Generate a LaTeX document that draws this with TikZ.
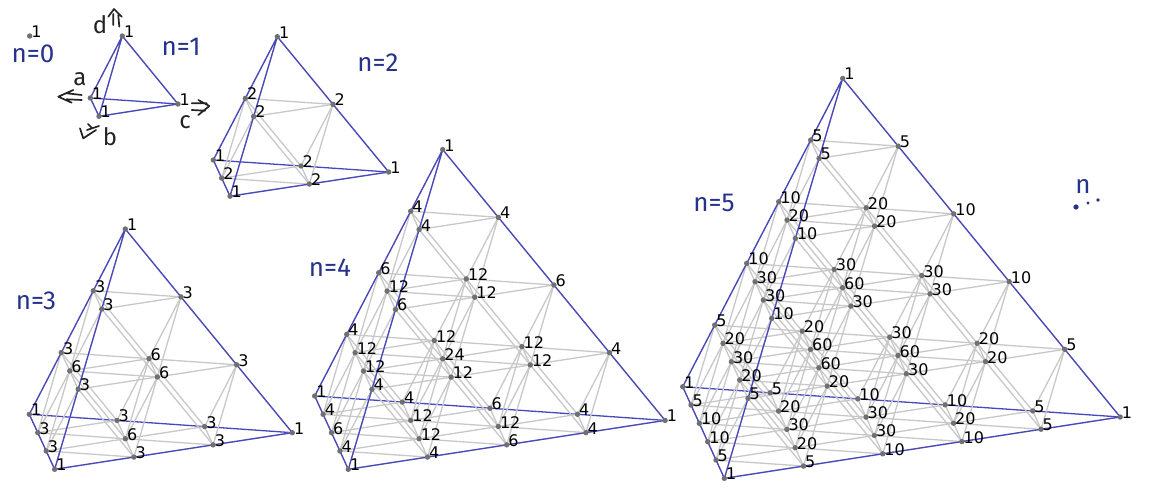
\documentclass[tikz,border=0pt]{standalone}
\usepackage{fontspec}
\setmainfont{DejaVu Sans}
\newfontfamily\handfont{Fira Sans}
\pgfdeclarelayer{bg}
\pgfdeclarelayer{back}
\pgfsetlayers{back,bg,main}
\definecolor{gridgray}{RGB}{200,200,200}
\definecolor{edgeblue}{RGB}{72,72,190}
\definecolor{ptgray}{RGB}{112,112,112}
\definecolor{handblue}{RGB}{38,50,140}
\definecolor{handblack}{RGB}{35,35,35}
\tikzset{
  x=1pt,y=-1pt,
  pt/.style={circle,fill=ptgray,inner sep=0pt,minimum size=5.4pt},
  lab/.style={font=\fontsize{16}{16}\selectfont,anchor=base west,inner sep=0pt,text=black},
  gridline/.style={draw=gridgray,line width=1.3pt},
  edgeline/.style={draw=edgeblue,line width=1.3pt},
  handlab/.style={font=\handfont\fontsize{26}{26}\selectfont,text=handblue,inner sep=0pt},
  handlet/.style={font=\handfont\fontsize{24}{24}\selectfont,text=handblack,inner sep=0pt},
  handarrow/.style={draw=handblack,line width=1.7pt,line cap=round,line join=round},
}
% \tetra{n}{ax}{ay}{sbx}{sby}{scx}{scy}{sdx}{sdy}
\newcommand{\tetra}[9]{%
  \def\tn{#1}\def\ax{#2}\def\ay{#3}\def\sbx{#4}\def\sby{#5}\def\scx{#6}\def\scy{#7}\def\sdx{#8}\def\sdy{#9}%
  \foreach \l in {0,...,\tn}{%
    \pgfmathtruncatemacro\mj{\tn-\l}%
    \foreach \j in {0,...,\mj}{%
      \pgfmathtruncatemacro\mk{\tn-\l-\j}%
      \foreach \k in {0,...,\mk}{%
        \pgfmathtruncatemacro\ii{\tn-\l-\j-\k}%
        \pgfmathsetmacro\px{\ax+\j*\sbx+\k*\scx+\l*\sdx}%
        \pgfmathsetmacro\py{\ay+\j*\sby+\k*\scy+\l*\sdy}%
        \pgfmathtruncatemacro\coef{round(factorial(\tn)/(factorial(\ii)*factorial(\j)*factorial(\k)*factorial(\l)))}%
        \node[pt] (T\tn-\j-\k-\l) at (\px,\py) {};
        \node[lab] (L\tn-\j-\k-\l) at (\px+1.5,\py+1.5) {\coef};
      }%
    }%
  }%
  \ifnum\tn>0
  \begin{pgfonlayer}{back}
  \draw[edgeline] (T\tn-0-0-0.center) -- (T\tn-0-\tn-0.center);
  \end{pgfonlayer}
  \begin{pgfonlayer}{bg}
  \foreach \l in {0,...,\tn}{%
    \pgfmathtruncatemacro\mj{\tn-\l}%
    \foreach \j in {0,...,\mj}{%
      \pgfmathtruncatemacro\mk{\tn-\l-\j}%
      \foreach \k in {0,...,\mk}{%
        \pgfmathtruncatemacro\ii{\tn-\l-\j-\k}%
        \pgfmathtruncatemacro\jp{\j+1}\pgfmathtruncatemacro\jm{\j-1}%
        \pgfmathtruncatemacro\kp{\k+1}\pgfmathtruncatemacro\km{\k-1}%
        \pgfmathtruncatemacro\lp{\l+1}%
        \pgfmathtruncatemacro\onac{\j+\l}%
        \ifnum\ii>0
          \draw[gridline] (T\tn-\j-\k-\l.center) -- (T\tn-\jp-\k-\l.center);
          \ifnum\onac>0
            \draw[gridline] (T\tn-\j-\k-\l.center) -- (T\tn-\j-\kp-\l.center);
          \fi
          \draw[gridline] (T\tn-\j-\k-\l.center) -- (T\tn-\j-\k-\lp.center);
        \fi
        \ifnum\j>0
          \draw[gridline] (T\tn-\j-\k-\l.center) -- (T\tn-\jm-\kp-\l.center);
          \draw[gridline] (T\tn-\j-\k-\l.center) -- (T\tn-\jm-\k-\lp.center);
        \fi
        \ifnum\k>0
          \draw[gridline] (T\tn-\j-\k-\l.center) -- (T\tn-\j-\km-\lp.center);
        \fi
      }%
    }%
  }%
  \draw[edgeline] (T\tn-0-0-\tn.center) -- (T\tn-0-0-0.center) -- (T\tn-\tn-0-0.center) -- (T\tn-0-\tn-0.center) -- (T\tn-0-0-\tn.center) -- (T\tn-\tn-0-0.center);
  \end{pgfonlayer}
  \fi
}
\begin{document}
\begin{tikzpicture}
\useasboundingbox (0,0) rectangle (1150,500);
\begin{pgfonlayer}{back}
\fill[white] (0,0) rectangle (1150,500);
\end{pgfonlayer}
\tetra{0}{29.7}{36}{8.4}{18.3}{87.5}{6.06}{32}{-61.6}
\tetra{1}{90.3}{98}{8.7}{18.3}{87.7}{6}{32}{-62}
\tetra{2}{213.3}{160}{8.35}{18.1}{87.7}{6}{32}{-61.65}
\tetra{3}{29.3}{414.3}{8.45}{18.33}{87.67}{6.13}{32}{-61.77}
\tetra{4}{314.7}{396}{8.4}{18.33}{87.6}{6.1}{32}{-61.6}
\tetra{5}{682.7}{386.7}{8.33}{18.33}{87.5}{6.06}{32}{-61.65}
% hand labels
\node[handlab] (h0) at (33,54) {n=0};
\node[handlab] (h1) at (181,47) {n=1};
\node[handlab] (h2) at (378,63) {n=2};
\node[handlab] (h3) at (36,301) {n=3};
\node[handlab] (h4) at (330,268) {n=4};
\node[handlab] (h5) at (714,203) {n=5};
\node[handlab] (h6) at (1083,186) {n};
\fill[handblue] (1076,207) circle (2.6pt) (1088,203) circle (1.6pt) (1098,200) circle (1.8pt);
\node[handlet] (la) at (80,79) {a};
\node[handlet] (lb) at (110,137) {b};
\node[handlet] (lc) at (185,122) {c};
\node[handlet] (ld) at (100,25) {d};
% hand arrows
\draw[handarrow] (73.3,90) -- (58.3,96.7) -- (71.7,102.7) (66.7,93.3) -- (81.7,95) (66.7,99.3) -- (81.7,100);
\draw[handarrow] (198.3,100) -- (209.3,106) -- (198.3,115) (191.7,103.3) -- (206.7,103.3) (191.7,110) -- (205,110.7);
\draw[handarrow] (80,128.3) -- (83.3,138.3) -- (96,130) (87,130) -- (99,126) (88,124) -- (92,128);
\draw[handarrow] (108.3,16.7) -- (114,9) -- (121.7,16.7) (113.3,14) -- (113.3,25) (118.3,15) -- (119.3,26.7);
\end{tikzpicture}
\end{document}
